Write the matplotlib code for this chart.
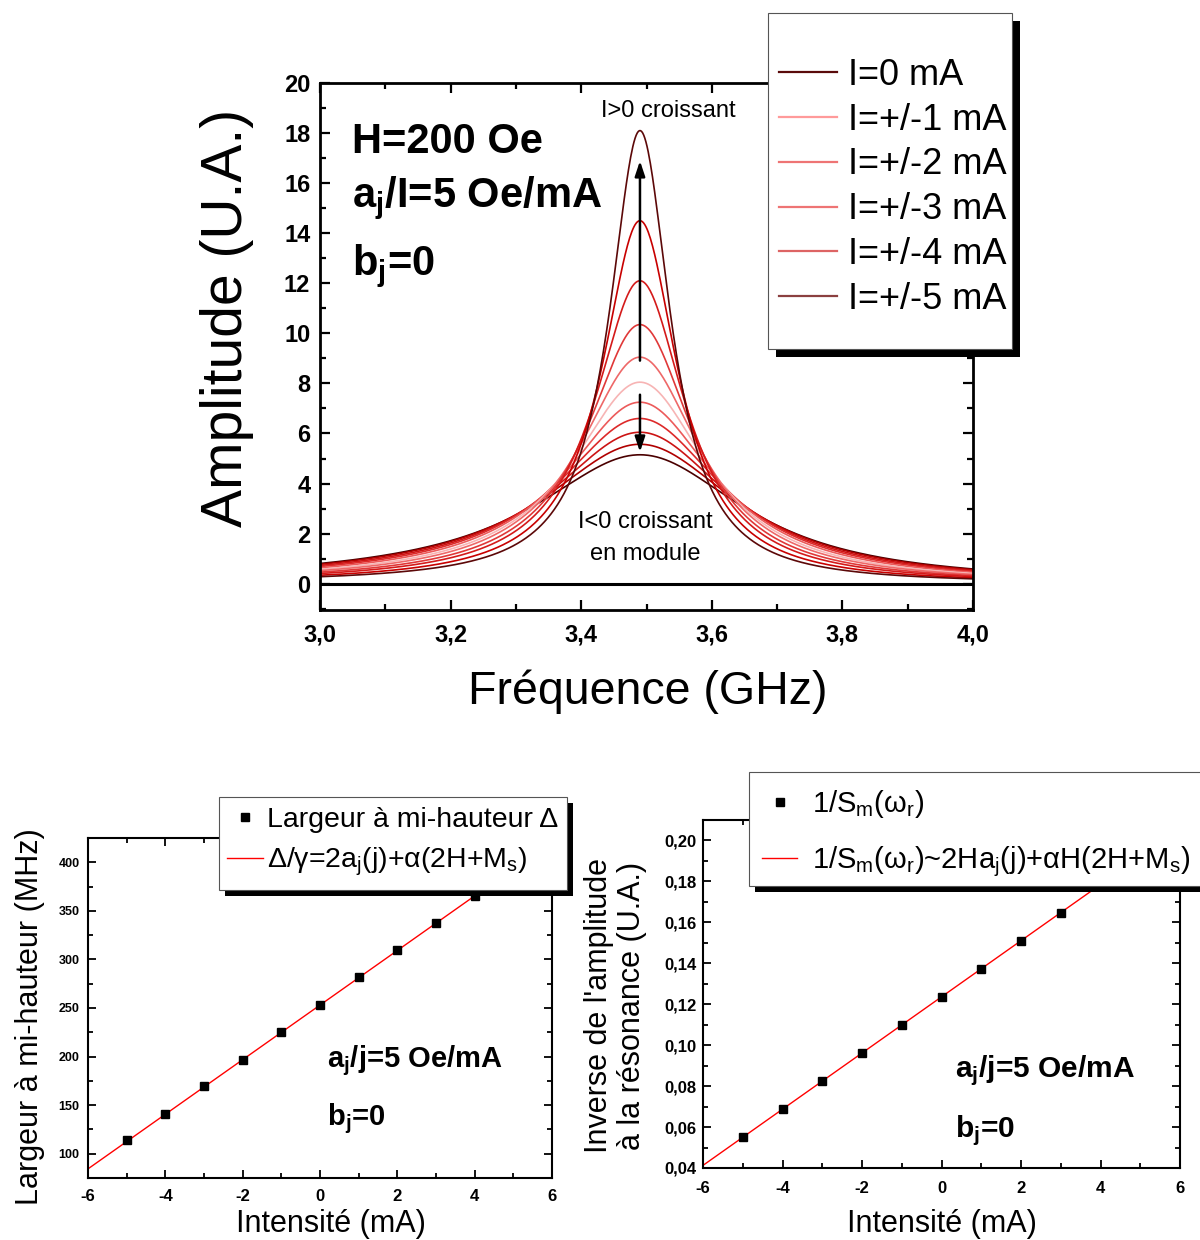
import numpy as np
import matplotlib
matplotlib.use("Agg")
import matplotlib.pyplot as plt
from matplotlib.lines import Line2D
from matplotlib.patches import Rectangle
from matplotlib.ticker import MultipleLocator, FuncFormatter

plt.rcParams['font.family'] = ['Liberation Sans', 'DejaVu Sans']
plt.rcParams['mathtext.default'] = 'regular'
plt.rcParams['axes.unicode_minus'] = False

W, H = 1200, 1240

# --- top panel : resonance curves, one per current (from lowest to highest peak)
curve_labels = ['-5', '-4', '-3', '-2', '-1', '0', '1', '2', '3', '4', '5']
peak_amp = [5.15, 5.57, 6.05, 6.6, 7.25, 8.05, 9.05, 10.35, 12.1, 14.5, 18.1]
fwhm_ghz = [0.393, 0.366, 0.337, 0.310, 0.282, 0.253, 0.226, 0.197, 0.170, 0.141, 0.114]
f_res = 3.49
curve_colors = ['#4a0000', '#b00000', '#cc1414', '#dd2a2a', '#ec5a5a', '#f7b4b4',
                '#ee6868', '#e03838', '#d41a1a', '#c80000', '#5c0808']

legend_labels = ['I=0 mA', 'I=+/-1 mA', 'I=+/-2 mA', 'I=+/-3 mA', 'I=+/-4 mA', 'I=+/-5 mA']
legend_colors = ['#5a0a0a', '#ff9a9a', '#ee7474', '#ee7474', '#dd6464', '#8b4040']

# --- bottom panels
current = [-5, -4, -3, -2, -1, 0, 1, 2, 3, 4]
largeur = [113.7, 140.4, 169.5, 196.7, 225.5, 252.6, 281.8, 310.0, 337.0, 365.7]
fit_largeur = (253.0, 28.1)   # intercept, slope

current_inv = [-5, -4, -3, -2, -1, 0, 1, 2, 3]
inv_amp = [0.0551, 0.0689, 0.0825, 0.0961, 0.1098, 0.1236, 0.1370, 0.1508, 0.1645]
fit_inv = (0.1236, 0.01372)


def fr(x0, y0, x1, y1):
    # pixel box -> figure fraction rect
    return [x0 / W, 1 - y1 / H, (x1 - x0) / W, (y1 - y0) / H]


def comma(v, pos, nd=1):
    return ('%.*f' % (nd, v)).replace('.', ',')


def shadow_box(x0, y0, x1, y1, off):
    r = fr(x0 + off, y0 + off, x1 + off, y1 + off)
    fig.add_artist(Rectangle(r[:2], r[2], r[3], transform=fig.transFigure,
                             facecolor='black', edgecolor='none', zorder=2))
    r = fr(x0, y0, x1, y1)
    fig.add_artist(Rectangle(r[:2], r[2], r[3], transform=fig.transFigure,
                             facecolor='white', edgecolor='#555555', lw=0.8, zorder=3))


fig = plt.figure(figsize=(W / 100, H / 100), dpi=100)

# ================= top panel
ax = fig.add_axes(fr(320, 83, 973, 610))
f = np.linspace(3.0, 4.0, 600)
for a0, w, c in zip(peak_amp, fwhm_ghz, curve_colors):
    amp = a0 / (1 + ((f ** 2 - f_res ** 2) / (f_res * w)) ** 2)
    ax.plot(f, amp, color=c, lw=1.2)
ax.axhline(0, color='black', lw=2.2)
ax.set_xlim(3.0, 4.0)
ax.set_ylim(-1.05, 20)
ax.xaxis.set_major_locator(MultipleLocator(0.2))
ax.xaxis.set_minor_locator(MultipleLocator(0.1))
ax.yaxis.set_major_locator(MultipleLocator(2))
ax.yaxis.set_minor_locator(MultipleLocator(1))
ax.xaxis.set_major_formatter(FuncFormatter(lambda v, p: comma(v, p, 1)))
ax.yaxis.set_major_formatter(FuncFormatter(lambda v, p: '%d' % round(v)))
ax.tick_params(which='both', direction='in', top=True, right=True, width=1.6)
ax.tick_params(which='major', length=7.5)
ax.tick_params(which='minor', length=4.5)
ax.tick_params(axis='y', pad=7, labelsize=17)
ax.tick_params(axis='x', pad=10, labelsize=17)
for lab in ax.get_xticklabels() + ax.get_yticklabels():
    lab.set_fontweight('bold')
for s in ax.spines.values():
    s.set_linewidth(2)

ax.set_xlabel('Fréquence (GHz)', fontsize=33.5)
ax.xaxis.set_label_coords(0.502, -0.156)
ax.xaxis.label.set_verticalalignment('center')
ax.set_ylabel('Amplitude (U.A.)', fontsize=41)
ax.yaxis.set_label_coords(-0.143, 0.554)
ax.yaxis.label.set_verticalalignment('center')

ax.annotate('', xy=(f_res, 17.0), xytext=(f_res, 8.8),
            arrowprops=dict(arrowstyle='-|>,head_length=0.9,head_width=0.3', color='black', lw=1.8))
ax.annotate('', xy=(f_res, 5.15), xytext=(f_res, 7.66),
            arrowprops=dict(arrowstyle='-|>,head_length=0.9,head_width=0.3', color='black', lw=1.8))
ax.text(3.533, 18.9, 'I>0 croissant', fontsize=17, ha='center', va='center')
ax.text(3.498, 1.83, 'I<0 croissant\nen module', fontsize=17, ha='center', va='center',
        linespacing=1.6)

fig.text(352 / W, 1 - 153 / H, 'H=200 Oe', fontsize=30, fontweight='bold', va='baseline')
fig.text(352 / W, 1 - 207 / H, 'a$_j$/I=5 Oe/mA', fontsize=30, fontweight='bold', va='baseline')
fig.text(352 / W, 1 - 275 / H, 'b$_j$=0', fontsize=30, fontweight='bold', va='baseline')

# legend box with hard shadow
shadow_box(768, 13, 1012, 349, 8)
handles = [Line2D([], [], color=c, lw=1.6) for c in legend_colors]
fig.legend(handles, legend_labels, loc='upper left', bbox_to_anchor=(779 / W, 1 - 58 / H),
           frameon=False, borderpad=0, borderaxespad=0, fontsize=26, handlelength=1.6,
           handletextpad=0.3, labelspacing=0.27)

# ================= bottom left
ax2 = fig.add_axes(fr(88, 838, 552, 1178))
xl = np.array([-6, 6])
ax2.plot(xl, fit_largeur[0] + fit_largeur[1] * xl, color='red', lw=1)
ax2.plot(current, largeur, 's', color='black', ms=6)
ax2.set_xlim(-6, 6)
ax2.set_ylim(75, 425)
ax2.xaxis.set_major_locator(MultipleLocator(2))
ax2.xaxis.set_minor_locator(MultipleLocator(1))
ax2.yaxis.set_major_locator(MultipleLocator(50))
ax2.yaxis.set_minor_locator(MultipleLocator(25))
ax2.yaxis.set_major_formatter(FuncFormatter(lambda v, p: '%d' % round(v)))
ax2.tick_params(which='both', direction='in', top=True, right=True, width=1.3)
ax2.tick_params(which='major', length=6)
ax2.tick_params(which='minor', length=3.5)
ax2.tick_params(axis='y', pad=6, labelsize=9)
ax2.tick_params(axis='x', pad=8, labelsize=12)
for lab in ax2.get_xticklabels() + ax2.get_yticklabels():
    lab.set_fontweight('bold')
for s in ax2.spines.values():
    s.set_linewidth(1.5)
ax2.set_xlabel('Intensité (mA)', fontsize=22)
ax2.xaxis.set_label_coords(0.524, -0.135)
ax2.xaxis.label.set_verticalalignment('center')
ax2.set_ylabel('Largeur à mi-hauteur (MHz)', fontsize=22)
ax2.yaxis.set_label_coords(-0.125, 0.476)
ax2.yaxis.label.set_verticalalignment('center')
fig.text(327 / W, 1 - 1067 / H, 'a$_j$/j=5 Oe/mA', fontsize=21, fontweight='bold', va='baseline')
fig.text(327 / W, 1 - 1125 / H, 'b$_j$=0', fontsize=21, fontweight='bold', va='baseline')

shadow_box(219, 797, 567, 890, 6)
h2 = [Line2D([], [], ls='none', marker='s', color='black', ms=6),
      Line2D([], [], color='red', lw=1)]
fig.legend(h2, ['Largeur à mi-hauteur Δ', 'Δ/γ=2a$_j$(j)+α(2H+M$_s$)'], loc='upper left',
           bbox_to_anchor=(227 / W, 1 - 807 / H), frameon=False, borderpad=0, borderaxespad=0,
           fontsize=20.5, handlelength=1.25, handletextpad=0.15, labelspacing=0.45)

# ================= bottom right
ax3 = fig.add_axes(fr(703, 820, 1180, 1168))
ax3.plot(xl, fit_inv[0] + fit_inv[1] * xl, color='red', lw=1)
ax3.plot(current_inv, inv_amp, 's', color='black', ms=6)
ax3.set_xlim(-6, 6)
ax3.set_ylim(0.04, 0.21)
ax3.xaxis.set_major_locator(MultipleLocator(2))
ax3.xaxis.set_minor_locator(MultipleLocator(1))
ax3.yaxis.set_major_locator(MultipleLocator(0.02))
ax3.yaxis.set_minor_locator(MultipleLocator(0.01))
ax3.yaxis.set_major_formatter(FuncFormatter(lambda v, p: comma(v, p, 2)))
ax3.tick_params(which='both', direction='in', top=True, right=True, width=1.3)
ax3.tick_params(which='major', length=6)
ax3.tick_params(which='minor', length=3.5)
ax3.tick_params(axis='y', pad=4.5, labelsize=12)
ax3.tick_params(axis='x', pad=9.5, labelsize=12)
for lab in ax3.get_xticklabels() + ax3.get_yticklabels():
    lab.set_fontweight('bold')
for s in ax3.spines.values():
    s.set_linewidth(1.5)
ax3.set_xlabel('Intensité (mA)', fontsize=22)
ax3.xaxis.set_label_coords(0.501, -0.161)
ax3.xaxis.label.set_verticalalignment('center')
ax3.set_ylabel("Inverse de l'amplitude\nà la résonance (U.A.)", fontsize=22, linespacing=1.15)
ax3.yaxis.set_label_coords(-0.184, 0.466)
ax3.yaxis.label.set_verticalalignment('center')
fig.text(955 / W, 1 - 1077 / H, 'a$_j$/j=5 Oe/mA', fontsize=21.5, fontweight='bold', va='baseline')
fig.text(955 / W, 1 - 1137 / H, 'b$_j$=0', fontsize=21.5, fontweight='bold', va='baseline')

shadow_box(749, 772, 1215, 886, 6)
h3 = [Line2D([], [], ls='none', marker='s', color='black', ms=6),
      Line2D([], [], color='red', lw=1)]
fig.legend(h3, ['1/S$_m$(ω$_r$)', '1/S$_m$(ω$_r$)~2Ha$_j$(j)+αH(2H+M$_s$)'], loc='upper left',
           bbox_to_anchor=(762 / W, 1 - 788 / H), frameon=False, borderpad=0, borderaxespad=0,
           fontsize=21, handlelength=1.2, handletextpad=0.5, labelspacing=0.85)

fig.savefig('out.png', dpi=100)
